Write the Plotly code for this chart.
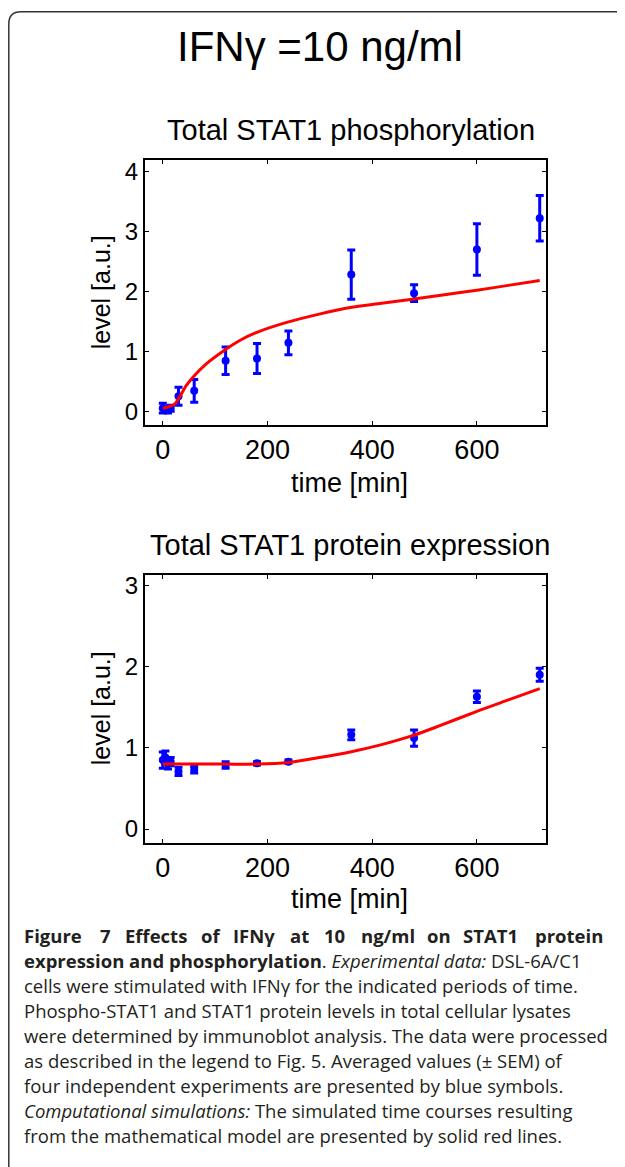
import plotly.graph_objects as go

# page has an 8px body margin; figure sized to fill the rest of the window
OFF = 8
W, H = 625 - OFF, 1167 - OFF

# ---- Data: phosphorylation ----
t_exp = [0, 5, 10, 15, 30, 60, 120, 180, 240, 360, 480, 600, 720]
p_val = [0.05, 0.03, 0.02, 0.05, 0.25, 0.34, 0.84, 0.88, 1.14, 2.28, 1.97, 2.70, 3.22]
p_err = [0.08, 0.05, 0.05, 0.05, 0.15, 0.19, 0.23, 0.25, 0.20, 0.41, 0.14, 0.43, 0.38]

t_sim1 = [0, 10, 23, 45, 61, 83, 120, 147, 181, 240, 299, 358, 418, 477, 528, 600, 660, 720]
p_sim = [0.05, 0.07, 0.12, 0.43, 0.60, 0.79, 1.03, 1.18, 1.32, 1.49, 1.62, 1.73, 1.80, 1.87, 1.93, 2.02, 2.10, 2.18]

# ---- Data: protein expression ----
e_val = [0.85, 0.88, 0.80, 0.83, 0.71, 0.73, 0.79, 0.81, 0.83, 1.16, 1.12, 1.63, 1.90]
e_err = [0.10, 0.08, 0.06, 0.05, 0.05, 0.04, 0.04, 0.02, 0.02, 0.06, 0.10, 0.07, 0.08]

t_sim2 = [0, 60, 120, 180, 240, 299, 358, 418, 477, 528, 600, 660, 720]
e_sim = [0.80, 0.80, 0.80, 0.80, 0.82, 0.88, 0.95, 1.04, 1.15, 1.27, 1.45, 1.59, 1.73]

x_ticks = [0, 200, 400, 600]
y1_ticks = [0, 1, 2, 3, 4]
y2_ticks = [0, 1, 2, 3]

BLUE = "#0000ff"
RED = "#ff0000"
FONT = "Liberation Sans"
CAP = "Open Sans"

def px(x):
    return (x - OFF) / W

def py(y):
    return 1 - (y - OFF) / H

fig = go.Figure()

def add_panel(xa, ya, vals, errs, ts, sims):
    fig.add_trace(go.Scatter(
        x=t_exp, y=vals, mode="markers", xaxis=xa, yaxis=ya,
        marker=dict(color=BLUE, size=8),
        error_y=dict(type="data", array=errs, color=BLUE, thickness=3, width=4),
        showlegend=False))
    fig.add_trace(go.Scatter(
        x=ts, y=sims, mode="lines", xaxis=xa, yaxis=ya,
        line=dict(color=RED, width=3, shape="spline", smoothing=0.8),
        showlegend=False))

add_panel("x", "y", p_val, p_err, t_sim1, p_sim)
add_panel("x2", "y2", e_val, e_err, t_sim2, e_sim)

def ydom(top, bot):
    return [py(bot), py(top)]

base = dict(showline=True, linecolor="black", linewidth=2, mirror="ticks",
            ticks="inside", ticklen=4, tickcolor="black", tickwidth=1,
            showgrid=False, zeroline=False)
xfont = dict(family=FONT, size=27, color="black")
yfont = dict(family=FONT, size=24, color="black")

fig.update_layout(
    width=W, height=H, margin=dict(l=0, r=0, t=0, b=0),
    paper_bgcolor="white", plot_bgcolor="white",
    xaxis=dict(domain=[px(145), px(546)], range=[-34, 732], tickvals=x_ticks,
               anchor="y", tickfont=xfont, **base),
    yaxis=dict(domain=ydom(157, 423), range=[-0.23, 4.2], tickvals=y1_ticks,
               anchor="x", tickfont=yfont, **base),
    xaxis2=dict(domain=[px(145), px(546)], range=[-34, 732], tickvals=x_ticks,
                anchor="y2", tickfont=xfont, **base),
    yaxis2=dict(domain=ydom(573, 842), range=[-0.17, 3.135], tickvals=y2_ticks,
                anchor="x2", tickfont=yfont, **base),
)

def ann(text, x, y, size, xanchor="center", angle=0, family=FONT, color="black"):
    fig.add_annotation(text=text, x=px(x), y=py(y), xref="paper", yref="paper",
                       showarrow=False, xanchor=xanchor, yanchor="middle",
                       textangle=angle, font=dict(family=family, size=size, color=color))

ann("IFNγ =10 ng/ml", 320, 44, 42)
ann("Total STAT1 phosphorylation", 351, 127, 29)
ann("time [min]", 350, 481, 27)
ann("level [a.u.]", 101, 290, 25, angle=-90)
ann("Total STAT1 protein expression", 350, 543, 29)
ann("time [min]", 350, 898, 27)
ann("level [a.u.]", 101, 707, 25, angle=-90)

# caption
cap_size = 18.5
# first (justified) line: word start positions across 22..612
first_words = ["Figure", "7", "Effects", "of", "IFNγ", "at", "10", "ng/ml", "on", "STAT1", "protein"]
first_x = [22, 98, 123, 199, 231, 288, 322, 359, 425, 461, 533]
for w, x in zip(first_words, first_x):
    ann("<b>" + w + "</b>", x, 935, cap_size, xanchor="left", family=CAP, color="#231f20")

lines = [
    "<b>expression and phosphorylation</b>. <i>Experimental data:</i> DSL-6A/C1",
    "cells were stimulated with IFNγ for the indicated periods of time.",
    "Phospho-STAT1 and STAT1 protein levels in total cellular lysates",
    "were determined by immunoblot analysis. The data were processed",
    "as described in the legend to Fig. 5. Averaged values (± SEM) of",
    "four independent experiments are presented by blue symbols.",
    "<i>Computational simulations:</i> The simulated time courses resulting",
    "from the mathematical model are presented by solid red lines.",
]
for i, l in enumerate(lines):
    ann(l, 22, 960 + 25 * i, cap_size, xanchor="left", family=CAP, color="#231f20")

# frame with rounded corner
fx = px(8.8)
fy = py(8.8)
fig.add_shape(type="path", xref="paper", yref="paper",
              path=f"M {fx} {py(1180)} L {fx} {py(21)} Q {fx} {fy} {px(21)} {fy} L {px(660)} {fy}",
              line=dict(color="#333333", width=1.5))

fig.write_html("out.html")
